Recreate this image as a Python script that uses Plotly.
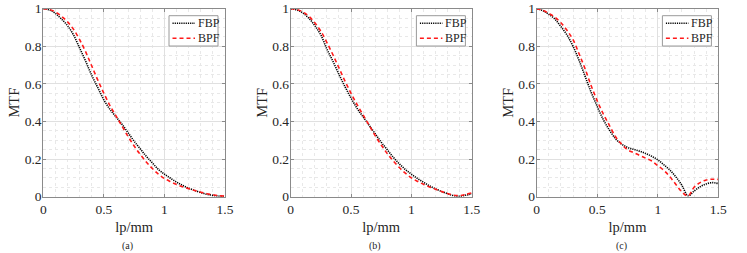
import plotly.graph_objects as go

freq = [0.00, 0.05, 0.10, 0.15, 0.20, 0.25, 0.30, 0.35, 0.40, 0.45, 0.50,
        0.55, 0.60, 0.65, 0.70, 0.75, 0.80, 0.85, 0.90, 0.95, 1.00,
        1.05, 1.10, 1.15, 1.20, 1.25, 1.30, 1.35, 1.40, 1.45, 1.50]

fbp_a = [1.000, 0.994, 0.975, 0.945, 0.910, 0.860, 0.790, 0.720, 0.645, 0.580, 0.515,
         0.465, 0.425, 0.385, 0.340, 0.295, 0.255, 0.215, 0.180, 0.145, 0.120,
         0.098, 0.078, 0.060, 0.045, 0.033, 0.022, 0.013, 0.007, 0.003, 0.001]
bpf_a = [1.000, 0.996, 0.983, 0.960, 0.930, 0.890, 0.835, 0.770, 0.695, 0.620, 0.550,
         0.485, 0.430, 0.375, 0.320, 0.270, 0.225, 0.185, 0.150, 0.120, 0.097,
         0.080, 0.065, 0.053, 0.043, 0.033, 0.024, 0.016, 0.010, 0.005, 0.003]

fbp_b = [1.000, 0.994, 0.977, 0.950, 0.910, 0.860, 0.785, 0.720, 0.650, 0.585, 0.525,
         0.470, 0.425, 0.380, 0.335, 0.290, 0.250, 0.210, 0.175, 0.145, 0.120,
         0.097, 0.077, 0.058, 0.042, 0.028, 0.016, 0.006, 0.002, 0.008, 0.015]
bpf_b = [1.000, 0.996, 0.983, 0.960, 0.925, 0.880, 0.820, 0.755, 0.685, 0.615, 0.550,
         0.490, 0.435, 0.380, 0.325, 0.275, 0.230, 0.190, 0.155, 0.125, 0.100,
         0.082, 0.066, 0.052, 0.040, 0.028, 0.017, 0.008, 0.006, 0.012, 0.020]

fbp_c = [1.000, 0.990, 0.970, 0.945, 0.905, 0.860, 0.800, 0.725, 0.640, 0.555, 0.480,
         0.410, 0.355, 0.310, 0.280, 0.262, 0.252, 0.242, 0.230, 0.215, 0.196,
         0.170, 0.142, 0.105, 0.060, 0.005, 0.030, 0.053, 0.068, 0.075, 0.070]
bpf_c = [1.000, 0.992, 0.975, 0.955, 0.925, 0.885, 0.835, 0.760, 0.680, 0.590, 0.510,
         0.440, 0.380, 0.320, 0.280, 0.250, 0.235, 0.220, 0.205, 0.190, 0.165,
         0.140, 0.106, 0.065, 0.025, 0.004, 0.050, 0.075, 0.089, 0.093, 0.092]

panels = [("(a)", fbp_a, bpf_a), ("(b)", fbp_b, bpf_b), ("(c)", fbp_c, bpf_c)]

W, H = 747, 253
x_domains = [(43.3 / W, 225.0 / W), (290.7 / W, 471.7 / W), (536.7 / W, 718.3 / W)]
y_domain = (1 - 196.7 / H, 1 - 8.7 / H)

FONT = "Liberation Serif, Times New Roman, serif"
TXT = "#262626"
AX = "#8a8a8a"

fig = go.Figure()
shapes = []
annotations = []

for i, (cap, fbp, bpf) in enumerate(panels):
    n = "" if i == 0 else str(i + 1)
    xa, ya = "x" + n, "y" + n
    fig.add_trace(go.Scatter(x=freq, y=fbp, mode="lines", name="FBP", xaxis=xa, yaxis=ya,
                             line=dict(color="black", width=1.6, dash="1.2px,1px", shape="spline"),
                             showlegend=False))
    fig.add_trace(go.Scatter(x=freq, y=bpf, mode="lines", name="BPF", xaxis=xa, yaxis=ya,
                             line=dict(color="#ff1a1a", width=1.6, dash="4px,3px", shape="spline"),
                             showlegend=False))
    axis_common = dict(showline=True, linecolor=AX, linewidth=1, mirror="ticks",
                       ticks="inside", ticklen=3, tickcolor=AX, tickwidth=1,
                       showgrid=True, gridcolor="#e0e0e0", gridwidth=1, zeroline=False,
                       automargin=False,
                       tickfont=dict(family=FONT, size=13.5, color=TXT))
    fig.layout["xaxis" + n] = dict(axis_common, domain=list(x_domains[i]), anchor=ya,
                                   range=[0, 1.5], tickvals=[0, 0.5, 1, 1.5],
                                   ticktext=["0", "0.5", "1", "1.5"],
                                   minor=dict(dtick=0.1, tick0=0, showgrid=True, gridcolor="#e8e8e8",
                                              griddash="dot", ticks=""),
                                   title=dict(text="lp/mm", font=dict(family=FONT, size=14.5, color=TXT),
                                              standoff=5))
    fig.layout["yaxis" + n] = dict(axis_common, domain=list(y_domain), anchor=xa,
                                   range=[0, 1], tickvals=[0, 0.2, 0.4, 0.6, 0.8, 1],
                                   ticktext=["0", "0.2", "0.4", "0.6", "0.8", "1"],
                                   ticklabelstandoff=-2,
                                   minor=dict(dtick=0.05, tick0=0, showgrid=True, gridcolor="#e8e8e8",
                                              griddash="dot", ticks=""),
                                   title=dict(text="MTF", font=dict(family=FONT, size=14.5, color=TXT),
                                              standoff=1))
    x0, x1 = x_domains[i]
    annotations.append(dict(text=cap, xref="paper", yref="paper",
                            x=(x0 + x1) / 2 - 6.5 / W, y=1 - 246 / H, showarrow=False,
                            xanchor="center", yanchor="middle",
                            font=dict(family=FONT, size=10, color=TXT)))
    # custom legend box in axis-domain coordinates
    xd = "x" + n + " domain"
    yd = "y" + n + " domain"
    pw = (x1 - x0) * W
    ph = (y_domain[1] - y_domain[0]) * H
    lx0 = 125.7 / pw
    lx1 = 174.7 / pw
    ly1 = 1 - 7.0 / ph
    ly0 = 1 - 37.3 / ph
    shapes.append(dict(type="rect", xref=xd, yref=yd, x0=lx0, x1=lx1, y0=ly0, y1=ly1,
                       line=dict(color="#9a9a9a", width=1), fillcolor="white", layer="above"))
    for k, (nm, col, dsh) in enumerate([("FBP", "black", "1.2px,1px"), ("BPF", "#ff1a1a", "4px,3px")]):
        yy = 1 - (14.5 + k * 15.0) / ph
        shapes.append(dict(type="line", xref=xd, yref=yd, x0=lx0 + 3.5 / pw, x1=lx0 + 26 / pw,
                           y0=yy, y1=yy, line=dict(color=col, width=1.6, dash=dsh), layer="above"))
        annotations.append(dict(text=nm, xref=xd, yref=yd, x=lx0 + 27 / pw, y=yy,
                                showarrow=False, xanchor="left", yanchor="middle",
                                font=dict(family=FONT, size=12, color=TXT)))

fig.update_layout(width=W, height=H, margin=dict(l=0, r=0, t=0, b=0),
                  paper_bgcolor="white", plot_bgcolor="white",
                  shapes=shapes, annotations=annotations, showlegend=False)

fig.write_html("out.html", config={"displayModeBar": False},
               post_script="document.body.style.margin='0';document.body.style.overflow='hidden';")
